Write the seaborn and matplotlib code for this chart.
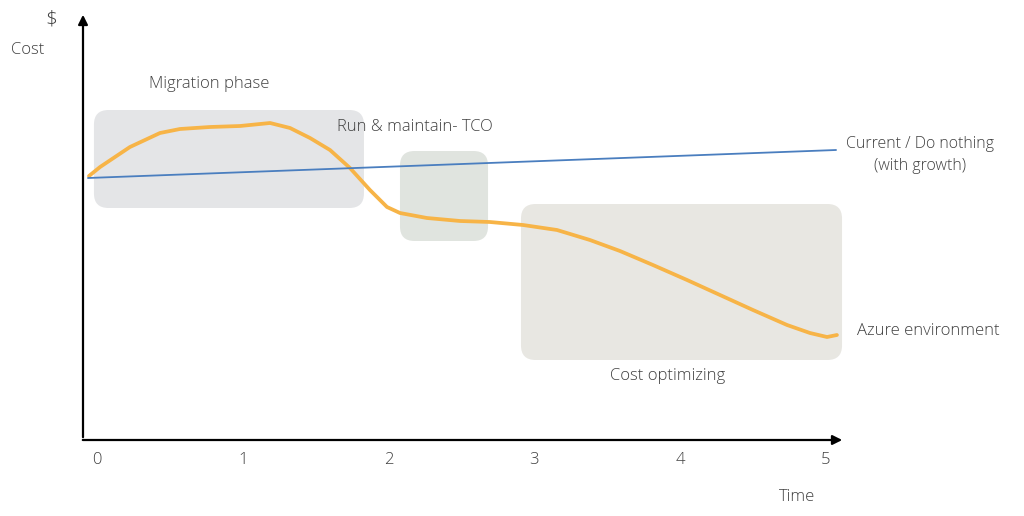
'''Cloud migration cost curve
'''

import numpy as np
import pandas as pd
import matplotlib.pyplot as plt
import seaborn as sns
from matplotlib.patches import FancyBboxPatch

# time ticks
ticks = [0, 1, 2, 3, 4, 5]

# azure environment cost
azure_t = [-0.055, 0.021, 0.226, 0.432, 0.569, 0.775, 0.981, 1.118, 1.187, 1.324,
           1.461, 1.598, 1.735, 1.872, 1.989, 2.078, 2.263, 2.490, 2.695, 2.922,
           3.155, 3.381, 3.587, 3.813, 4.047, 4.273, 4.499, 4.733, 4.890, 5.007, 5.075]
azure_cost = [264, 273, 293, 307, 311, 313, 314, 316, 317, 312,
              302, 290, 272, 250, 233, 227, 222, 219, 218, 215,
              210, 200, 189, 175, 160, 145, 130, 115, 107, 103, 105]

# current / do nothing
current_t = [-0.062, 5.069]
current_cost = [262, 290]

# phases
phase_names = ['Migration phase', 'Run & maintain- TCO', 'Cost optimizing']
phase_t0 = [-0.021, 2.078, 2.908]
phase_t1 = [1.831, 2.682, 5.110]
phase_c0 = [232, 199, 80]
phase_c1 = [330, 289, 236]

TXT = '#404040'
PX = 145.8  # pixels per time unit


def main():
    sns.set_style('white')
    plt.rcParams['font.family'] = ['Open Sans', 'DejaVu Sans']

    fig = plt.figure(figsize=(10.24, 5.16), dpi=100)
    ax = fig.add_axes([0, 0, 1, 1])

    box_colors = ['#e4e5e7', '#e0e4df', '#e8e7e2']
    for i in range(len(phase_names)):
        box = FancyBboxPatch((phase_t0[i], phase_c0[i]), phase_t1[i] - phase_t0[i],
                             phase_c1[i] - phase_c0[i],
                             boxstyle='round,pad=0,rounding_size=0.1',
                             mutation_aspect=PX, fc=box_colors[i], ec='none', zorder=1)
        ax.add_patch(box)

    azure = pd.DataFrame({'t': azure_t, 'cost': azure_cost})
    current = pd.DataFrame({'t': current_t, 'cost': current_cost})
    sns.lineplot(data=current, x='t', y='cost', color='#4a7ebf', lw=1.3, ax=ax, zorder=3)
    sns.lineplot(data=azure, x='t', y='cost', color='#f7b447', lw=2.7, ax=ax, zorder=2,
                 sort=False)
    ax.set_xlim(-97 / PX, (1024 - 97) / PX)
    ax.set_ylim(-76, 440)
    ax.axis('off')

    # axes arrows
    ax.annotate('', xy=(-14 / PX, 428), xytext=(-14 / PX, 0),
                arrowprops=dict(arrowstyle='-|>', color='black', lw=1.6, mutation_scale=14))
    ax.annotate('', xy=(748 / PX, 0), xytext=(-17 / PX, 0),
                arrowprops=dict(arrowstyle='-|>', color='black', lw=1.6, mutation_scale=14))

    kw = dict(fontsize=12, color=TXT, fontweight='light')
    for t in ticks:
        ax.text(t, -20, str(t), ha='center', va='center', **kw)

    ax.text(-46 / PX, 421, '$', ha='center', va='center', fontsize=15, color=TXT,
            fontweight='light')
    ax.text(-69 / PX, 390, 'Cost', ha='center', va='center', **kw)
    ax.text(700 / PX, -57, 'Time', ha='center', va='center', **kw)
    ax.text(0.768, 356, phase_names[0], ha='center', va='center', **kw)
    ax.text(2.181, 313, phase_names[1], ha='center', va='center', **kw)
    ax.text(3.916, 64, phase_names[2], ha='center', va='center', **kw)
    ax.text(5.645, 285, 'Current / Do nothing\n(with growth)', ha='center', va='center',
            linespacing=1.5, fontsize=11.5, color=TXT, fontweight='light')
    ax.text(5.213, 109, 'Azure environment', ha='left', va='center', **kw)

    plt.savefig('out.png', dpi=100)


if __name__ == '__main__':
    main()
